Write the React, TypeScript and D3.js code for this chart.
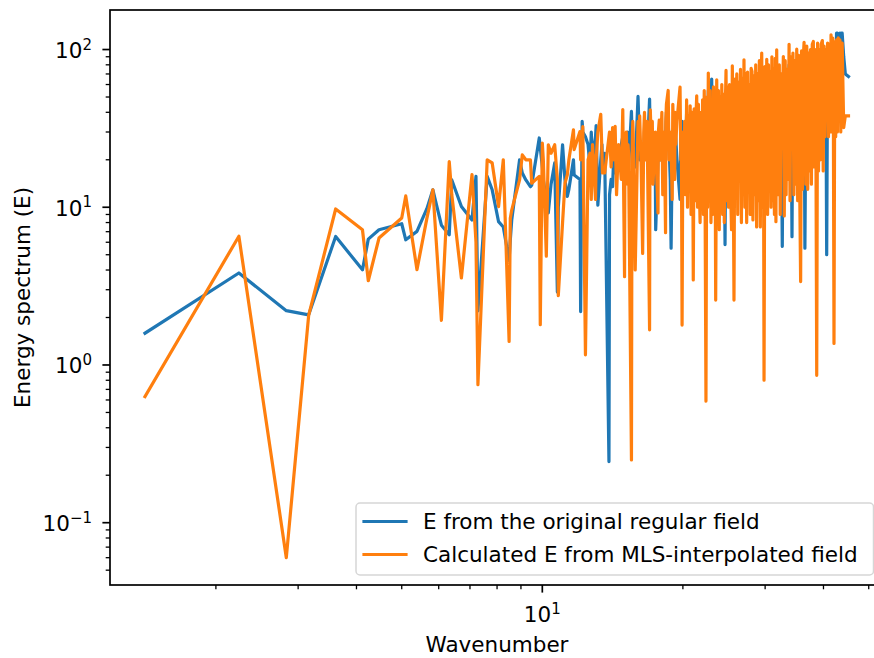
import React from "react";
import * as d3 from "d3";

// Wavenumber k (x) of each point
const wavenumber: number[] = [
  1.41, 2.24, 2.83, 3.16, 3.61, 4.12, 4.24, 4.47, 5.0, 5.1, 5.39, 5.66, 5.83, 6.08, 6.32, 6.4, 6.71, 7.07, 7.21, 7.28,
  7.62, 7.81, 8.06, 8.25, 8.49, 8.54, 8.6, 8.94, 9.06, 9.22, 9.43, 9.49, 9.85, 9.9, 10.0,
  10.05, 10.2, 10.3, 10.44, 10.63, 10.77, 10.82, 11.05, 11.18, 11.31,
  11.4, 11.66, 11.7, 12.04, 12.08, 12.17, 12.21, 12.37, 12.53, 12.65,
  12.73, 12.81, 13.0, 13.04, 13.15, 13.34, 13.42, 13.45, 13.6, 13.89,
  13.93, 14.04, 14.14, 14.21, 14.32, 14.42, 14.56, 14.76, 14.87, 15.0,
  15.03, 15.13, 15.23, 15.26, 15.3, 15.52, 15.56, 15.62, 15.65, 15.81,
  16.03, 16.12, 16.16, 16.28, 16.4, 16.49, 16.55, 16.64, 16.76, 16.97,
  17.0, 17.03, 17.09, 17.12, 17.2, 17.26, 17.46, 17.49, 17.69, 17.72,
  17.8, 17.89, 18.03, 18.11, 18.25, 18.36, 18.38, 18.44, 18.6, 18.68,
  18.79, 18.87, 18.97, 19.03, 19.1, 19.21, 19.24, 19.31, 19.42, 19.72,
  19.8, 19.85, 19.92, 20.0,
  20.09, 20.18, 20.27, 20.37, 20.46, 20.55, 20.64, 20.73, 20.82, 20.91, 21.0, 21.05, 21.14, 21.23, 21.32, 21.41,
  21.5, 21.59, 21.68, 21.77, 21.86, 21.95, 22.04, 22.13, 22.22, 22.31, 22.41, 22.5, 22.59, 22.67, 22.77, 22.87,
  22.97, 23.05, 23.15, 23.25, 23.35, 23.43, 23.51, 23.63, 23.73, 23.83, 23.93, 24.03, 24.13, 24.23, 24.33, 24.43,
  24.53, 24.62, 24.74, 24.84, 24.94,
  25.05, 25.17, 25.29, 25.42, 25.52, 25.62, 25.73, 25.85, 25.97, 26.09, 26.21, 26.33, 26.45, 26.57, 26.69, 26.81,
  26.93, 27.03, 27.15, 27.27, 27.39, 27.51, 27.63, 27.75, 27.87, 28.0, 28.12, 28.25, 28.38, 28.51, 28.64, 28.77,
  28.9, 29.03, 29.16, 29.3, 29.4, 29.5, 29.62, 29.74, 29.84, 29.97, 30.1, 30.24, 30.37, 30.5, 30.63, 30.76,
  30.89, 31.02, 31.15, 31.28, 31.41, 31.54, 31.64, 31.76, 31.89,
  32.02, 32.17, 32.32, 32.47, 32.65, 32.82, 32.97, 33.12, 33.27, 33.42, 33.58, 33.76, 33.92, 34.08, 34.25, 34.41,
  34.57, 34.73, 34.89, 35.06, 35.22, 35.38, 35.54, 35.74, 35.9, 36.06, 36.22, 36.35, 36.5, 36.67, 36.84, 37.01,
  37.18, 37.35, 37.52, 37.69, 37.85, 38.05, 38.22, 38.39, 38.56, 38.69, 38.86, 39.03, 39.2, 39.37, 39.54, 39.78,
  39.95, 40.12, 40.3, 40.47, 40.64, 40.82, 41.0, 41.17, 41.35, 41.52, 41.7, 41.88, 42.0, 42.13, 42.3, 42.48,
  42.66, 42.84, 43.02, 43.2, 43.38, 43.56, 43.74, 43.86, 44.2, 44.55, 45.25,
];

// E from the original regular field (blue)
const energyRegular: number[] = [
  1.59, 3.83, 2.21, 2.08, 6.53, 4.01, 6.28, 7.2, 7.86, 6.22, 7.03, 9.8, 12.9, 7.7, 6.7, 14.9, 10.1, 8.3, 15.7, 2.2,
  15.7, 12.9, 8.1, 7.5, 4.6, 6.2, 8.3, 20, 16.5, 14.9, 13.5, 13.8, 27.5, 24, 18,
  15, 11, 9.2, 14, 19.1, 2.9, 10, 24.9, 15, 11.7,
  13, 20, 16, 15, 2.18, 35, 30, 28, 25, 18,
  30, 20, 28, 32.9, 10.3, 20, 25, 18, 22, 0.244,
  12, 15, 13.5, 20, 18, 16, 21.5, 25, 28, 20,
  25, 22, 30, 20, 18, 40.5, 30, 25, 20, 18,
  50.4, 30, 20, 25, 18, 22, 30, 25, 20, 48.5,
  35, 25, 20, 15, 30, 22, 15, 7.2, 20, 25,
  30, 20, 25, 18, 13.5, 20, 30, 40, 35, 25,
  15, 5.5, 20, 30, 25, 20, 35, 28, 20, 11.2,
  30, 25, 35, 28,
  25, 30, 20, 40, 12.9, 30, 25, 35, 18, 30, 28, 22, 35, 20, 30, 45,
  20, 35, 22, 15, 38, 25, 40, 20, 45, 22, 30, 45, 25, 55, 25, 40,
  20, 65, 20, 35, 25, 30, 30, 45, 20, 40, 25, 35, 18, 50, 22, 40,
  25, 5.8, 55, 20, 45,
  25, 45, 25, 20, 60, 35, 30, 50, 22, 45, 25, 40, 28, 55, 20, 40,
  22, 60, 30, 50, 18, 45, 30, 40, 22, 55, 40, 22, 50, 28, 60, 20,
  45, 30, 55, 25, 40, 70, 35, 50, 40, 60, 30, 65, 25, 55, 35, 50,
  25, 60, 30, 50, 28, 65, 28, 75, 35,
  30, 60, 25, 45, 5.65, 70, 30, 60, 30, 55, 35, 80, 30, 65, 6.5, 70,
  35, 60, 30, 75, 25, 65, 40, 45, 70, 30, 60, 85, 5.5, 40, 80, 35,
  70, 40, 75, 35, 80, 90, 40, 75, 40, 50, 85, 35, 80, 45, 90, 95,
  35, 85, 50, 75, 5.0, 90, 50, 85, 55, 100, 55, 100, 60, 60, 95, 60,
  127, 127, 125, 80, 127, 120, 127, 127, 90, 70, 67.5,
];

// Calculated E from MLS-interpolated field (orange)
const energyMLS: number[] = [
  0.63, 6.55, 0.06, 2.06, 9.75, 7.2, 3.42, 6.38, 8.54, 11.8, 4.02, 8.5, 12.9, 1.92, 19.5, 12, 3.56, 16.1, 6, 0.75,
  20, 19.1, 10.1, 20, 1.41, 8.5, 9.6, 14.9, 21.5, 20, 20, 14.2, 15.7, 1.8, 25.5,
  20, 4.9, 24.9, 22, 24.9, 15, 2.75, 8, 14.2, 16,
  20, 31, 23.2, 30.2, 20, 25, 32.5, 1.16, 20, 22,
  11.2, 25, 11.2, 20, 30, 38.8, 22, 16.5, 16.5, 28,
  30, 18, 32, 20, 32.6, 12, 25, 15, 41.6, 3.63,
  25, 30, 14, 25, 22, 0.25, 20, 35, 30, 4.0,
  35, 25, 38, 18, 5.1, 30, 40, 20, 35, 1.67,
  25, 41.5, 30, 20, 35, 14, 30, 25, 9.2, 30,
  35.7, 20, 40, 12, 30, 6.9, 35, 45, 55, 20,
  30, 25, 11.2, 45, 30, 15, 40, 25, 35, 57.8,
  20, 30, 1.79, 30,
  14, 35, 12, 47.9, 10, 38, 16, 44, 9, 40, 20, 3.46, 42, 11, 36, 50.9,
  10, 45, 14, 8, 40, 12, 48, 9, 55, 12, 0.59, 50, 10, 71, 15, 55,
  8, 30, 9, 58, 12, 45, 2.58, 64.3, 10, 55, 7.2, 50, 12, 60, 9, 52,
  8, 35, 73.7, 11, 58,
  10, 60, 14, 7.2, 78.9, 25, 2.58, 65, 12, 70, 9, 62, 15, 75, 8, 66,
  12, 86, 10, 70, 8, 72, 14, 60, 9, 76, 72.6, 8.3, 68, 12, 80, 7.5,
  70, 11, 85, 7.5, 60, 95, 10, 75, 0.8, 78, 12, 86.8, 9, 80, 14, 72,
  10, 90, 11, 75, 9, 88, 8.1, 99.7, 15,
  12, 80, 9, 70, 40, 90.2, 8.8, 85, 12, 75, 15, 108, 11, 90, 30, 95,
  12, 85, 14, 100.5, 11, 92, 18, 3.38, 98, 13, 90, 111, 45, 14, 105, 13,
  95, 17, 100, 14, 108, 112.5, 18, 100, 17, 0.86, 110, 17, 100, 20, 108, 114,
  17, 105, 28, 100, 45, 110, 28, 108, 30, 124, 30, 118, 40, 1.37, 112, 28,
  115, 30, 118.5, 40, 115, 30, 105, 110, 32, 38, 38,
];

const seriesNames = ["E from the original regular field", "Calculated E from MLS-interpolated field"];
const seriesColors = ["#1f77b4", "#ff7f0e"];

const yMajorTicks = [0.1, 1, 10, 100];
const yMajorExps = ["\u22121", "0", "1", "2"];
const yMinorTicks = [
  0.05, 0.06, 0.07, 0.08, 0.09, 0.2, 0.3, 0.4, 0.5, 0.6, 0.7, 0.8, 0.9,
  2, 3, 4, 5, 6, 7, 8, 9, 20, 30, 40, 50, 60, 70, 80, 90,
];
const xMajorTicks = [10];
const xMajorExps = ["1"];
const xMinorTicks = [2, 3, 4, 5, 6, 7, 8, 9, 20, 30, 40, 50];

const W = 874;
const H = 658;
const L = 110;
const R = 884;
const T = 10;
const B = 585;
const FONT = "DejaVu Sans, Verdana, sans-serif";
const FS = 21.5;
const SUP = 15;

export default function App() {
  const x = d3.scaleLog().domain([1.1865, 53.91]).range([L, R]);
  const y = d3.scaleLog().domain([0.04027, 178.1]).range([B, T]);

  const line = d3
    .line<[number, number]>()
    .x((d) => x(d[0]))
    .y((d) => y(d[1]));

  const n = Math.min(wavenumber.length, energyRegular.length, energyMLS.length);
  const blue = wavenumber.slice(0, n).map((k, i) => [k, energyRegular[i]] as [number, number]);
  const orange = wavenumber.slice(0, n).map((k, i) => [k, energyMLS[i]] as [number, number]);

  const majLen = 7.6;
  const minLen = 4.3;

  const legX = 356;
  const legY = 503;
  const legW = 517.5;
  const legH = 72;
  const rows = [521.5, 554.5];

  return (
    <svg
      width={W}
      height={H}
      viewBox={`0 0 ${W} ${H}`}
      style={{ position: "fixed", left: 0, top: 0, background: "#fff" }}
      fontFamily={FONT}
    >
      <defs>
        <clipPath id="plotclip">
          <rect x={L} y={T} width={R - L} height={B - T} />
        </clipPath>
      </defs>
      <rect x={0} y={0} width={W} height={H} fill="#fff" />

      <g clipPath="url(#plotclip)" fill="none" strokeWidth={3.2} strokeLinejoin="round" strokeLinecap="square">
        <path d={line(blue) || ""} stroke={seriesColors[0]} />
        <path d={line(orange) || ""} stroke={seriesColors[1]} />
      </g>

      {/* ticks */}
      <g stroke="#000">
        {yMajorTicks.map((v) => (
          <line key={"ym" + v} x1={L - majLen} x2={L} y1={y(v)} y2={y(v)} strokeWidth={1.7} />
        ))}
        {yMinorTicks.map((v) => (
          <line key={"yn" + v} x1={L - minLen} x2={L} y1={y(v)} y2={y(v)} strokeWidth={1.3} />
        ))}
        {xMajorTicks.map((v) => (
          <line key={"xm" + v} x1={x(v)} x2={x(v)} y1={B} y2={B + majLen} strokeWidth={1.7} />
        ))}
        {xMinorTicks.map((v) => (
          <line key={"xn" + v} x1={x(v)} x2={x(v)} y1={B} y2={B + minLen} strokeWidth={1.3} />
        ))}
      </g>

      {/* y tick labels */}
      {yMajorTicks.map((v, i) => (
        <text key={"yl" + v} x={92} y={y(v) + 8.5} textAnchor="end" fontSize={FS} fill="#000">
          10
          <tspan dy={-8.5} fontSize={SUP}>
            {yMajorExps[i]}
          </tspan>
        </text>
      ))}
      {/* x tick labels */}
      {xMajorTicks.map((v, i) => (
        <text key={"xl" + v} x={x(v)} y={622} textAnchor="middle" fontSize={FS} fill="#000">
          10
          <tspan dy={-8.5} fontSize={SUP}>
            {xMajorExps[i]}
          </tspan>
        </text>
      ))}

      {/* spines */}
      <rect x={L} y={T} width={R - L} height={B - T} fill="none" stroke="#000" strokeWidth={1.7} />

      {/* axis labels */}
      <text x={(L + R) / 2} y={652} textAnchor="middle" fontSize={FS} fill="#000">
        Wavenumber
      </text>
      <text
        transform={`translate(29.5,${(T + B) / 2}) rotate(-90)`}
        textAnchor="middle"
        fontSize={FS}
        fill="#000"
      >
        Energy spectrum (E)
      </text>

      {/* legend */}
      <rect
        x={legX}
        y={legY}
        width={legW}
        height={legH}
        rx={4}
        ry={4}
        fill="#fff"
        fillOpacity={0.8}
        stroke="#cccccc"
        strokeOpacity={0.8}
        strokeWidth={1.5}
      />
      {seriesNames.map((name, i) => (
        <g key={name}>
          <line
            x1={legX + 8}
            x2={legX + 50}
            y1={rows[i]}
            y2={rows[i]}
            stroke={seriesColors[i]}
            strokeWidth={3.2}
            strokeLinecap="square"
          />
          <text x={legX + 67} y={rows[i] + 7} fontSize={FS} fill="#000">
            {name}
          </text>
        </g>
      ))}
    </svg>
  );
}
